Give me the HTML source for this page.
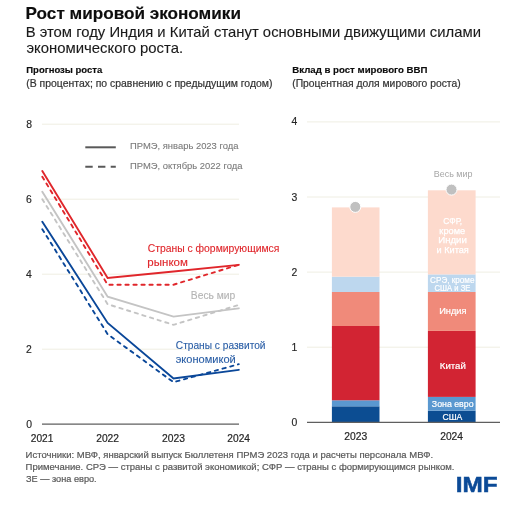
<!DOCTYPE html>
<html><head><meta charset="utf-8">
<style>
html,body{margin:0;padding:0;background:#fff;}
svg{display:block;will-change:transform;}
text{font-family:"Liberation Sans",sans-serif;}
</style></head><body>
<svg width="524" height="512" viewBox="0 0 524 512">
<rect width="524" height="512" fill="#fff"/>
<line x1="42" x2="239" y1="124.20" y2="124.20" stroke="#efeee3" stroke-width="1"/>
<line x1="42" x2="239" y1="199.20" y2="199.20" stroke="#efeee3" stroke-width="1"/>
<line x1="42" x2="239" y1="274.20" y2="274.20" stroke="#efeee3" stroke-width="1"/>
<line x1="42" x2="239" y1="349.20" y2="349.20" stroke="#efeee3" stroke-width="1"/>
<line x1="42" x2="239" y1="424.2" y2="424.2" stroke="#5f5f5f" stroke-width="1.2"/>
<polyline points="42.30,199.20 107.65,304.20 173.50,324.82 238.80,304.95" fill="none" stroke="#c4c4c4" stroke-width="1.9" stroke-dasharray="3.3 4.7" stroke-linecap="round"/>
<polyline points="42.30,191.70 107.65,296.70 173.50,316.57 238.80,308.32" fill="none" stroke="#c4c4c4" stroke-width="1.9" stroke-linecap="round"/>
<polyline points="42.30,229.20 107.65,334.20 173.50,382.20 238.80,364.20" fill="none" stroke="#0a4799" stroke-width="1.9" stroke-dasharray="3.3 4.7" stroke-linecap="round"/>
<polyline points="42.30,221.70 107.65,322.95 173.50,378.45 238.80,369.82" fill="none" stroke="#0a4799" stroke-width="1.9" stroke-linecap="round"/>
<polyline points="42.30,176.70 107.65,284.70 173.50,284.70 238.80,264.82" fill="none" stroke="#e0262b" stroke-width="1.9" stroke-dasharray="3.3 4.7" stroke-linecap="round"/>
<polyline points="42.30,171.07 107.65,277.95 173.50,271.57 238.80,264.82" fill="none" stroke="#e0262b" stroke-width="1.9" stroke-linecap="round"/>
<line x1="85.3" x2="115.8" y1="147.3" y2="147.3" stroke="#595959" stroke-width="2"/>
<line x1="85.3" x2="115.8" y1="166.7" y2="166.7" stroke="#595959" stroke-width="2" stroke-dasharray="7.4 5.3"/>
<line x1="307" x2="500" y1="121.90" y2="121.90" stroke="#efeee3" stroke-width="1"/>
<line x1="307" x2="500" y1="197.00" y2="197.00" stroke="#efeee3" stroke-width="1"/>
<line x1="307" x2="500" y1="272.10" y2="272.10" stroke="#efeee3" stroke-width="1"/>
<line x1="307" x2="500" y1="347.20" y2="347.20" stroke="#efeee3" stroke-width="1"/>
<rect x="331.9" y="406.30" width="47.6" height="16.00" fill="#0c4d92"/>
<rect x="331.9" y="400.30" width="47.6" height="6.00" fill="#5a98d0"/>
<rect x="331.9" y="326.00" width="47.6" height="74.30" fill="#d22433"/>
<rect x="331.9" y="292.00" width="47.6" height="34.00" fill="#f08a7a"/>
<rect x="331.9" y="276.70" width="47.6" height="15.30" fill="#bdd7ee"/>
<rect x="331.9" y="207.40" width="47.6" height="69.30" fill="#fddacd"/>
<rect x="427.9" y="410.70" width="47.7" height="11.60" fill="#0c4d92"/>
<rect x="427.9" y="396.90" width="47.7" height="13.80" fill="#5a98d0"/>
<rect x="427.9" y="330.90" width="47.7" height="66.00" fill="#d22433"/>
<rect x="427.9" y="292.00" width="47.7" height="38.90" fill="#f08a7a"/>
<rect x="427.9" y="274.40" width="47.7" height="17.60" fill="#bdd7ee"/>
<rect x="427.9" y="190.30" width="47.7" height="84.10" fill="#fddacd"/>
<circle cx="355.3" cy="206.9" r="5.5" fill="#c0c0c0" stroke="#fff" stroke-width="1"/>
<circle cx="451.5" cy="189.6" r="5.5" fill="#c0c0c0" stroke="#fff" stroke-width="1"/>
<line x1="307" x2="500" y1="422.3" y2="422.3" stroke="#5f5f5f" stroke-width="1.2"/>
<text x="25.64" y="19.0" font-size="16.2" font-weight="bold" fill="#0d0d0d" stroke="#0d0d0d" stroke-width="0.15" textLength="215.3" lengthAdjust="spacingAndGlyphs">Рост мировой экономики</text>
<text x="25.69" y="36.9" font-size="14.2" font-weight="normal" fill="#1a1a1a" stroke="#1a1a1a" stroke-width="0.1" textLength="455.29" lengthAdjust="spacingAndGlyphs">В этом году Индия и Китай станут основными движущими силами</text>
<text x="26.48" y="53.3" font-size="14.2" font-weight="normal" fill="#1a1a1a" stroke="#1a1a1a" stroke-width="0.1" textLength="156.67" lengthAdjust="spacingAndGlyphs">экономического роста.</text>
<text x="26.27" y="73.0" font-size="9.8" font-weight="bold" fill="#0d0d0d" stroke="#0d0d0d" stroke-width="0.15" textLength="75.99" lengthAdjust="spacingAndGlyphs">Прогнозы роста</text>
<text x="26.24" y="86.6" font-size="10.3" font-weight="normal" fill="#333333" stroke="#333333" stroke-width="0.2" textLength="246.25" lengthAdjust="spacingAndGlyphs">(В процентах; по сравнению с предыдущим годом)</text>
<text x="292.26" y="73.0" font-size="9.8" font-weight="bold" fill="#0d0d0d" stroke="#0d0d0d" stroke-width="0.15" textLength="135.16" lengthAdjust="spacingAndGlyphs">Вклад в рост мирового ВВП</text>
<text x="292.25" y="86.6" font-size="10.3" font-weight="normal" fill="#333333" stroke="#333333" stroke-width="0.2" textLength="168.35" lengthAdjust="spacingAndGlyphs">(Процентная доля мирового роста)</text>
<text x="130.06" y="149.4" font-size="9.5" font-weight="normal" fill="#7a7a7a" stroke="#7a7a7a" stroke-width="0.1" textLength="108.34" lengthAdjust="spacingAndGlyphs">ПРМЭ, январь 2023 года</text>
<text x="130.06" y="168.7" font-size="9.5" font-weight="normal" fill="#7a7a7a" stroke="#7a7a7a" stroke-width="0.1" textLength="112.37" lengthAdjust="spacingAndGlyphs">ПРМЭ, октябрь 2022 года</text>
<text x="147.71" y="252.4" font-size="10.6" font-weight="normal" fill="#e0262b" stroke="#e0262b" stroke-width="0.12" textLength="131.69" lengthAdjust="spacingAndGlyphs">Страны с формирующимся</text>
<text x="147.39" y="265.6" font-size="10.6" font-weight="normal" fill="#e0262b" stroke="#e0262b" stroke-width="0.12" textLength="40.48" lengthAdjust="spacingAndGlyphs">рынком</text>
<text x="190.86" y="298.5" font-size="10.4" font-weight="normal" fill="#b4b4b4" stroke="#b4b4b4" stroke-width="0.12" textLength="44.48" lengthAdjust="spacingAndGlyphs">Весь мир</text>
<text x="175.82" y="349.3" font-size="10.6" font-weight="normal" fill="#2a5ea6" stroke="#2a5ea6" stroke-width="0.12" textLength="89.74" lengthAdjust="spacingAndGlyphs">Страны с развитой</text>
<text x="175.74" y="362.7" font-size="10.6" font-weight="normal" fill="#2a5ea6" stroke="#2a5ea6" stroke-width="0.12" textLength="60.01" lengthAdjust="spacingAndGlyphs">экономикой</text>
<text x="29.05" y="128.3" font-size="10.4" font-weight="normal" fill="#262626" stroke="#262626" stroke-width="0.15" text-anchor="middle">8</text>
<text x="28.90" y="203.3" font-size="10.4" font-weight="normal" fill="#262626" stroke="#262626" stroke-width="0.15" text-anchor="middle">6</text>
<text x="29.00" y="278.3" font-size="10.4" font-weight="normal" fill="#262626" stroke="#262626" stroke-width="0.15" text-anchor="middle">4</text>
<text x="29.00" y="353.3" font-size="10.4" font-weight="normal" fill="#262626" stroke="#262626" stroke-width="0.15" text-anchor="middle">2</text>
<text x="29.10" y="428.3" font-size="10.4" font-weight="normal" fill="#262626" stroke="#262626" stroke-width="0.15" text-anchor="middle">0</text>
<text x="30.8" y="441.9" font-size="10.2" font-weight="normal" fill="#262626" stroke="#262626" stroke-width="0.2" textLength="22.62" lengthAdjust="spacingAndGlyphs">2021</text>
<text x="96.2" y="441.9" font-size="10.2" font-weight="normal" fill="#262626" stroke="#262626" stroke-width="0.2" textLength="22.83" lengthAdjust="spacingAndGlyphs">2022</text>
<text x="161.99" y="441.9" font-size="10.2" font-weight="normal" fill="#262626" stroke="#262626" stroke-width="0.2" textLength="22.93" lengthAdjust="spacingAndGlyphs">2023</text>
<text x="227.3" y="441.9" font-size="10.2" font-weight="normal" fill="#262626" stroke="#262626" stroke-width="0.2" textLength="22.67" lengthAdjust="spacingAndGlyphs">2024</text>
<text x="294.40" y="125.20000000000002" font-size="10.4" font-weight="normal" fill="#262626" stroke="#262626" stroke-width="0.15" text-anchor="middle">4</text>
<text x="294.40" y="200.70000000000002" font-size="10.4" font-weight="normal" fill="#262626" stroke="#262626" stroke-width="0.15" text-anchor="middle">3</text>
<text x="294.40" y="275.8" font-size="10.4" font-weight="normal" fill="#262626" stroke="#262626" stroke-width="0.15" text-anchor="middle">2</text>
<text x="294.40" y="350.9" font-size="10.4" font-weight="normal" fill="#262626" stroke="#262626" stroke-width="0.15" text-anchor="middle">1</text>
<text x="294.40" y="426.0" font-size="10.4" font-weight="normal" fill="#262626" stroke="#262626" stroke-width="0.15" text-anchor="middle">0</text>
<text x="344.39" y="440.2" font-size="10.2" font-weight="normal" fill="#262626" stroke="#262626" stroke-width="0.2" textLength="22.93" lengthAdjust="spacingAndGlyphs">2023</text>
<text x="440.2" y="440.2" font-size="10.2" font-weight="normal" fill="#262626" stroke="#262626" stroke-width="0.2" textLength="22.88" lengthAdjust="spacingAndGlyphs">2024</text>
<text x="433.72" y="176.7" font-size="8.6" font-weight="normal" fill="#a6a6a6" textLength="38.72" lengthAdjust="spacingAndGlyphs">Весь мир</text>
<text x="443.31" y="223.8" font-size="8.6" font-weight="normal" fill="#ffffff" stroke="#ffffff" stroke-width="0.25" textLength="18.81" lengthAdjust="spacingAndGlyphs">СФР,</text>
<text x="439.36" y="233.7" font-size="8.6" font-weight="normal" fill="#ffffff" stroke="#ffffff" stroke-width="0.25" textLength="25.82" lengthAdjust="spacingAndGlyphs">кроме</text>
<text x="438.26" y="243.1" font-size="8.6" font-weight="normal" fill="#ffffff" stroke="#ffffff" stroke-width="0.25" textLength="28.65" lengthAdjust="spacingAndGlyphs">Индии</text>
<text x="436.57" y="252.5" font-size="8.6" font-weight="normal" fill="#ffffff" stroke="#ffffff" stroke-width="0.25" textLength="32.2" lengthAdjust="spacingAndGlyphs">и Китая</text>
<text x="430.1" y="282.7" font-size="8.2" font-weight="normal" fill="#ffffff" stroke="#ffffff" stroke-width="0.2" textLength="44.33" lengthAdjust="spacingAndGlyphs">СРЭ, кроме</text>
<text x="434.53" y="290.5" font-size="8.2" font-weight="normal" fill="#ffffff" stroke="#ffffff" stroke-width="0.2" textLength="35.86" lengthAdjust="spacingAndGlyphs">США и ЗЕ</text>
<text x="439.23" y="314.2" font-size="9.0" font-weight="normal" fill="#ffffff" stroke="#ffffff" stroke-width="0.2" textLength="27.28" lengthAdjust="spacingAndGlyphs">Индия</text>
<text x="439.8" y="368.9" font-size="9.0" font-weight="normal" fill="#ffffff" stroke="#ffffff" stroke-width="0.2" textLength="26.02" lengthAdjust="spacingAndGlyphs">Китай</text>
<text x="431.86" y="407.1" font-size="9.0" font-weight="normal" fill="#ffffff" stroke="#ffffff" stroke-width="0.2" textLength="41.7" lengthAdjust="spacingAndGlyphs">Зона евро</text>
<text x="442.5" y="420.2" font-size="8.6" font-weight="normal" fill="#ffffff" stroke="#ffffff" stroke-width="0.2" textLength="19.88" lengthAdjust="spacingAndGlyphs">США</text>
<text x="25.63" y="458.0" font-size="9.3" font-weight="normal" fill="#595959" stroke="#595959" stroke-width="0.2" textLength="407.49" lengthAdjust="spacingAndGlyphs">Источники: МВФ, январский выпуск Бюллетеня ПРМЭ 2023 года и расчеты персонала МВФ.</text>
<text x="25.63" y="469.8" font-size="9.3" font-weight="normal" fill="#595959" stroke="#595959" stroke-width="0.2" textLength="428.8" lengthAdjust="spacingAndGlyphs">Примечание. СРЭ — страны с развитой экономикой; СФР — страны с формирующимся рынком.</text>
<text x="25.91" y="481.8" font-size="9.3" font-weight="normal" fill="#595959" stroke="#595959" stroke-width="0.2" textLength="70.77" lengthAdjust="spacingAndGlyphs">ЗЕ — зона евро.</text>
<text x="455.76" y="491.6" font-size="22.3" font-weight="bold" fill="#0b4a97" stroke="#0b4a97" stroke-width="0.5" textLength="41.91" lengthAdjust="spacingAndGlyphs">IMF</text>
</svg>
</body></html>
